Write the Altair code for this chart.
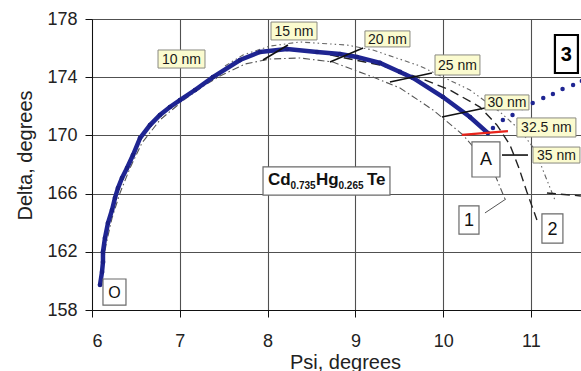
import altair as alt
import pandas as pd

FONT = "Liberation Sans"

# ---- measured ellipsometric trajectory (Psi, Delta) ----
main_psi = [6.091, 6.114, 6.125, 6.125, 6.148, 6.182, 6.228, 6.262, 6.296, 6.342,
            6.399, 6.467, 6.547, 6.661, 6.774, 6.888, 7.002, 7.173, 7.378, 7.686,
            7.913, 8.221, 8.563, 8.825, 9.018, 9.280, 9.508, 9.656, 9.998, 10.305, 10.510]
main_delta = [159.72, 160.61, 161.30, 161.99, 162.95, 163.98, 164.87, 165.70, 166.38, 167.07,
              167.76, 168.65, 169.82, 170.71, 171.40, 171.95, 172.43, 173.12, 174.01, 175.18,
              175.73, 175.94, 175.73, 175.59, 175.39, 174.98, 174.36, 173.95, 172.64, 171.26, 170.16]

# ---- sparse dotted branch after point A ----
branch_psi = [10.567, 10.68, 10.79, 10.90, 11.02, 11.14, 11.25, 11.36, 11.48, 11.58]
branch_delta = [170.51, 171.06, 171.40, 171.88, 172.23, 172.57, 172.85, 173.19, 173.46, 173.74]

# ---- model curve 1 (dash-dot) ----
c1_psi = [6.125, 6.159, 6.228, 6.319, 6.433, 6.569, 6.774, 7.059, 7.287, 7.458,
          7.743, 8.027, 8.369, 8.745, 9.200, 9.508, 9.884, 10.226, 10.567, 10.704]
c1_delta = [161.09, 162.47, 164.32, 166.04, 167.76, 169.48, 171.06, 172.50, 173.46, 174.08,
            174.91, 175.25, 175.32, 175.04, 174.01, 173.26, 171.75, 170.03, 167.62, 165.63]

# ---- model curve 2 (long dash) ----
c2_psi = [8.711, 9.280, 9.736, 10.077, 10.419, 10.613, 10.761, 10.863, 10.954, 11.068]
c2_delta = [175.53, 174.84, 173.95, 173.12, 171.95, 170.71, 169.34, 167.76, 166.11, 164.19]

# ---- outer model curve (dotted) ----
c3_psi = [7.515, 7.720, 8.027, 8.369, 8.904, 9.200, 9.736, 10.305, 10.647, 10.875,
          11.046, 11.159, 11.273]
c3_delta = [174.77, 175.53, 176.14, 176.42, 176.21, 175.87, 174.77, 173.12, 171.61, 170.37,
            169.00, 167.28, 165.56]

# short dashed piece at the right edge
c4_psi = [11.182, 11.569]
c4_delta = [166.04, 165.84]

# ---- thickness markers (segments) ----
mk_label = ["15 nm", "20 nm", "25 nm", "30 nm", "32.5 nm", "35 nm", "arrow1"]
mk_x1 = [7.948, 8.711, 9.394, 9.986, 10.214, 10.67, 10.476]
mk_y1 = [175.18, 175.04, 173.67, 171.26, 170.03, 168.65, 164.67]
mk_x2 = [8.232, 9.087, 9.872, 10.476, 10.738, 10.966, 10.715]
mk_y2 = [176.21, 176.01, 174.29, 171.88, 170.30, 168.65, 165.63]
mk_color = ["#111111", "#111111", "#111111", "#111111", "#e8241c", "#111111", "#555555"]
mk_width = [1.6, 1.6, 1.6, 1.6, 2.2, 1.6, 1.0]

# ---- thickness label boxes ----
nm_text = ["10 nm", "15 nm", "20 nm", "25 nm", "30 nm", "32.5 nm", "35 nm"]
nm_x1 = [6.752, 8.039, 9.109, 9.907, 10.476, 10.840, 11.023]
nm_x2 = [7.287, 8.563, 9.622, 10.419, 10.977, 11.512, 11.558]
nm_y1 = [175.87, 177.79, 177.18, 175.53, 172.78, 171.20, 169.20]
nm_y2 = [174.63, 176.56, 176.08, 174.15, 171.75, 169.89, 168.10]

# ---- white marker boxes ----
wb_text = ["A", "1", "2", "O"]
wb_x1 = [10.328, 10.180, 11.125, 6.125]
wb_x2 = [10.647, 10.408, 11.364, 6.387]
wb_y1 = [169.55, 165.15, 164.60, 160.13]
wb_y2 = [167.14, 163.22, 162.60, 158.34]
wb_size = [18, 18, 18, 16]

# panel number box
p3_text = ["3"]
p3_x1, p3_x2, p3_y1, p3_y2 = [11.273], [11.535], [176.90], [174.29]

# composition label
cd_box = dict(x1=[7.948], x2=[9.394], y1=[167.83], y2=[165.90])
cd_text = ["Cd", "0.735", "Hg", "0.265", "Te"]
cd_x = [8.005, 8.262, 8.551, 8.808, 9.132]
cd_y = [166.59, 166.30, 166.59, 166.30, 166.59]
cd_size = [17, 10, 17, 10, 17]

x_ticks = [6, 7, 8, 9, 10, 11]
y_ticks = [158, 162, 166, 170, 174, 178]

# ------------------------------------------------------------------
xs = alt.Scale(domain=[6, 11.57], nice=False, zero=False)
ys = alt.Scale(domain=[158, 178], nice=False, zero=False)

xaxis = alt.Axis(title="Psi, degrees", values=x_ticks, format="d", grid=True,
                 gridColor="#505050", gridWidth=1.1, domainColor="#111111",
                 tickColor="#111111", tickSize=7, labelPadding=15,
                 labelFont=FONT, labelFontSize=18, labelColor="#222222",
                 titleFont=FONT, titleFontSize=20, titleFontWeight="normal",
                 titleColor="#222222", titleBaseline="top", titleX=253, titleY=42)
yaxis = alt.Axis(title="Delta, degrees", values=y_ticks, format="d", grid=True,
                 gridColor="#505050", gridWidth=1.1, domainColor="#111111",
                 tickColor="#111111", tickSize=7, labelPadding=8,
                 labelFont=FONT, labelFontSize=18, labelColor="#222222",
                 titleFont=FONT, titleFontSize=20, titleFontWeight="normal",
                 titleColor="#222222", titleAngle=-90, titleBaseline="alphabetic",
                 titleAlign="center", titleX=-61, titleY=136)


def X(f):
    return alt.X(f, type="quantitative", scale=xs, axis=xaxis)


def Y(f):
    return alt.Y(f, type="quantitative", scale=ys, axis=yaxis)


def curve_df(px, py):
    return pd.DataFrame({"psi": px, "delta": py, "i": list(range(len(px)))})


def curve(px, py, color, width, dash=None):
    kw = dict(color=color, strokeWidth=width, clip=True)
    if dash:
        kw["strokeDash"] = dash
    return alt.Chart(curve_df(px, py)).mark_line(**kw).encode(
        x=X("psi"), y=Y("delta"), order=alt.Order("i:Q"))


layers = []
layers.append(curve(c1_psi, c1_delta, "#555555", 1.1, [7, 3, 1.5, 3]))
layers.append(curve(c2_psi, c2_delta, "#222222", 1.4, [9, 5]))
layers.append(curve(c3_psi, c3_delta, "#666666", 1.1, [5, 3, 1.5, 3, 1.5, 3]))
layers.append(curve(c4_psi, c4_delta, "#222222", 1.4, [9, 5]))

layers.append(curve(main_psi, main_delta, "#1f2592", 4.5))
layers.append(alt.Chart(curve_df(main_psi, main_delta)).mark_circle(
    color="#1a1f85", size=22, opacity=1, clip=True).encode(x=X("psi"), y=Y("delta")))

layers.append(alt.Chart(curve_df(branch_psi, branch_delta)).mark_circle(
    color="#1f2592", size=20, opacity=1, clip=True).encode(x=X("psi"), y=Y("delta")))

mk_df = pd.DataFrame({"x1": mk_x1, "y1": mk_y1, "x2": mk_x2, "y2": mk_y2,
                      "c": mk_color, "w": mk_width, "k": mk_label})
layers.append(alt.Chart(mk_df).mark_rule(clip=True).encode(
    x=X("x1"), y=Y("y1"), x2=alt.X2("x2"), y2=alt.Y2("y2"),
    color=alt.Color("c:N", scale=None), strokeWidth=alt.StrokeWidth("w:Q", scale=None)))

# nm label boxes
nm_df = pd.DataFrame({"t": nm_text, "x1": nm_x1, "x2": nm_x2, "y1": nm_y1, "y2": nm_y2})
nm_df["xc"] = (nm_df.x1 + nm_df.x2) / 2
nm_df["yc"] = (nm_df.y1 + nm_df.y2) / 2
layers.append(alt.Chart(nm_df).mark_rect(fill="#fbfbcf", stroke="#8a8a80",
                                          strokeWidth=1, clip=True).encode(
    x=X("x1"), x2=alt.X2("x2"), y=Y("y1"), y2=alt.Y2("y2")))
layers.append(alt.Chart(nm_df).mark_text(font=FONT, fontSize=14, color="#1a1a1a",
                                          align="center", baseline="middle", dy=1,
                                          clip=True).encode(
    x=X("xc"), y=Y("yc"), text="t:N"))

# white boxes A, 1, 2, O
wb_df = pd.DataFrame({"t": wb_text, "x1": wb_x1, "x2": wb_x2, "y1": wb_y1, "y2": wb_y2,
                      "s": wb_size})
wb_df["xc"] = (wb_df.x1 + wb_df.x2) / 2
wb_df["yc"] = (wb_df.y1 + wb_df.y2) / 2
layers.append(alt.Chart(wb_df).mark_rect(fill="white", stroke="#6a6a6a",
                                          strokeWidth=1.2).encode(
    x=X("x1"), x2=alt.X2("x2"), y=Y("y1"), y2=alt.Y2("y2")))
layers.append(alt.Chart(wb_df).mark_text(font=FONT, color="#111111", align="center",
                                          baseline="middle", dy=1).encode(
    x=X("xc"), y=Y("yc"), text="t:N", size=alt.Size("s:Q", scale=None)))

# panel "3"
p3_df = pd.DataFrame({"t": p3_text, "x1": p3_x1, "x2": p3_x2, "y1": p3_y1, "y2": p3_y2})
p3_df["xc"] = (p3_df.x1 + p3_df.x2) / 2
p3_df["yc"] = (p3_df.y1 + p3_df.y2) / 2
layers.append(alt.Chart(p3_df).mark_rect(fill="white", stroke="black",
                                          strokeWidth=2.2).encode(
    x=X("x1"), x2=alt.X2("x2"), y=Y("y1"), y2=alt.Y2("y2")))
layers.append(alt.Chart(p3_df).mark_text(font=FONT, fontSize=20, fontWeight="bold",
                                          color="black", align="center",
                                          baseline="middle", dy=1).encode(
    x=X("xc"), y=Y("yc"), text="t:N"))

# composition label box
cdb_df = pd.DataFrame(cd_box)
layers.append(alt.Chart(cdb_df).mark_rect(fill="white", stroke="#6a6a6a",
                                           strokeWidth=1.2).encode(
    x=X("x1"), x2=alt.X2("x2"), y=Y("y1"), y2=alt.Y2("y2")))
cd_df = pd.DataFrame({"t": cd_text, "x": cd_x, "y": cd_y, "s": cd_size})
layers.append(alt.Chart(cd_df).mark_text(font=FONT, fontWeight="bold", color="#111111",
                                          align="left", baseline="alphabetic").encode(
    x=X("x"), y=Y("y"), text="t:N", size=alt.Size("s:Q", scale=None)))

chart = alt.layer(*layers).properties(
    width=489, height=291,
    autosize=alt.AutoSizeParams(type="none"),
    padding={"left": 92, "top": 19, "right": 0, "bottom": 61},
    background="white",
).configure_view(strokeWidth=0)

chart.save("out.html", embed_options={"renderer": "svg", "actions": False})
